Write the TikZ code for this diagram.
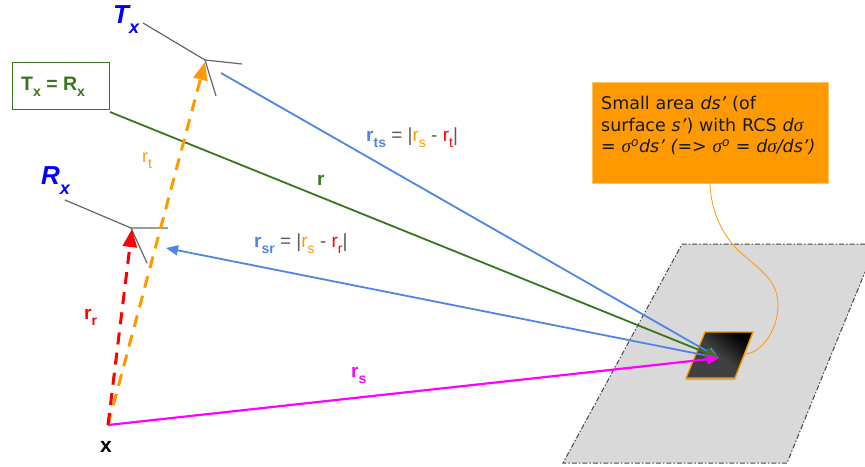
\documentclass[tikz,border=0pt]{standalone}
\usepackage{fontspec}
\setmainfont{Liberation Sans}
\newfontfamily\callfont{DejaVu Sans}
\newfontfamily\sigfont{Liberation Serif}
\usetikzlibrary{arrows.meta,calc}
\definecolor{cblue}{HTML}{4F86E0}
\definecolor{cgreen}{HTML}{38761D}
\definecolor{corange}{HTML}{FF9900}
\definecolor{cmag}{HTML}{FF00FF}
\definecolor{cgray}{HTML}{666666}
\definecolor{ctxt}{HTML}{595959}
\definecolor{csurf}{HTML}{D9D9D9}
\tikzset{
 ant/.style={draw=cgray,line width=1.2pt},
 lab/.style={anchor=base west,inner sep=0pt,font=\fontsize{19}{21}\selectfont\bfseries},
 eqlab/.style={anchor=base west,inner sep=0pt,text=ctxt,font=\fontsize{19}{21}\selectfont},
 bigtip/.style={-{Triangle[length=18pt,width=14pt]}},
 midtip/.style={-{Triangle[length=14pt,width=11pt]}},
 smalltip/.style={-{Triangle[length=12pt,width=10pt]}},
 edgedash/.style={black!72,line width=1pt,dash pattern=on 5pt off 2pt on 1.5pt off 2pt},
 dashline/.style={line width=3pt,dash pattern=on 12pt off 8.3pt,bigtip},
 antlab/.style={anchor=base west,inner sep=0pt,text=blue,font=\fontsize{26}{28}\selectfont\bfseries\itshape},
}
\newcommand{\lsub}[1]{\raisebox{-6pt}{\fontsize{14}{15}\selectfont #1}}
\newcommand{\asub}[1]{\raisebox{-10pt}{\fontsize{18}{19}\selectfont #1}}
\newcommand{\sig}{{\sigfont\itshape\fontsize{19}{21}\selectfont σ}}
\begin{document}
\begin{tikzpicture}[x=1pt,y=-1pt]
\useasboundingbox (0,0) rectangle (865,466);
% surface
\fill[csurf] (682,244) -- (865,244) -- (865,272) -- (787,463) -- (563,463) -- cycle;
\draw[edgedash] (865,244) -- (682,244) -- (563,463) -- (787,463) -- (865,272);
% patch
\fill[black!30] (705,334) -- (753,334) -- (735,380) -- (686,380) -- cycle;
\shade[bottom color=black!75,top color=black,middle color=black!75,shading angle=-40,draw=corange,line width=1.3pt]
 (705,332) -- (753,332) -- (735,378) -- (686,378) -- cycle;
% callout
\node[name=callout,fill=corange,draw=corange!60,line width=.4pt,minimum width=236pt,minimum height=101pt,anchor=north west,inner sep=0pt] at (592,82) {};
\node[name=calltext,anchor=north west,align=left,inner sep=0pt,text width=232pt,font=\fontsize{17.5}{21.7}\selectfont\callfont,text=black!90] at (601,96)
 {Small area \textit{ds’} (of\\surface \textit{s’}) with RCS \textit{d}\sig\\\textit{= \sig\textsuperscript{o}ds’ (=> \sig\textsuperscript{o} = d\sig/ds’)}};
\coordinate (cstart) at (710,183);
\coordinate (cend) at (746,354);
\draw[corange,line width=.8pt] (cstart) .. controls (711,215) and (725,238) .. (740,252) .. controls (760,270) and (778,280) .. (778,305) .. controls (778,330) and (762,352) .. (cend);
% connectors
\coordinate (O) at (108,425);
\coordinate (Tc) at (205,60);
\coordinate (Rc) at (131,228);
\coordinate (Ttip) at (205,62);
\coordinate (Rtip) at (132,229);
\coordinate (Pt) at (719,358);
\coordinate (Ta) at (143,23);\coordinate (Tb) at (242,64);\coordinate (Tk) at (216,96);
\coordinate (Ra) at (65,200);\coordinate (Rb) at (168,228);\coordinate (Rk) at (147,263);
\coordinate (Gs) at (110,112);\coordinate (Bs) at (221,73);\coordinate (Br) at (166,248);
\draw[ant] (Ta) -- (Tc) -- (Tb);
\draw[ant] (Tc) -- (Tk);
\draw[ant] (Ra) -- (Rc) -- (Rb);
\draw[ant] (Rc) -- (Rk);
\draw[cblue,line width=1.8pt,smalltip] (Bs) -- (Pt);
\draw[cblue,line width=1.8pt,{Triangle[length=12pt,width=10pt]}-{Triangle[length=12pt,width=10pt]}] (Br) -- (Pt);
\draw[cgreen,line width=1.8pt,midtip] (Gs) -- (Pt);
\draw[cmag,line width=2.2pt,smalltip] (O) -- (Pt);
\draw[corange,dashline] (O) -- (Ttip);
\draw[red,dashline] (O) -- (Rtip);
% labels
\node[name=tx,antlab] at (113,23) {T\asub{x}};
\node[name=rx,antlab] at (41,184) {R\asub{x}};
\node[name=eqbox,draw=cgreen,line width=1pt,fill=white,anchor=north west,minimum width=97pt,minimum height=47pt,inner sep=0pt] at (12,62) {};
\node[name=eqtxt,anchor=base west,inner sep=0pt,text=cgreen,font=\fontsize{19.5}{21}\selectfont\bfseries] at (21,90) {T\lsub{x} = R\lsub{x}};
\node[name=lr,lab,text=cgreen] at (317,185) {r};
\node[name=lrt,anchor=base west,inner sep=0pt,text=corange,font=\fontsize{18}{20}\selectfont] at (142,162) {r\lsub{t}};
\node[name=lrr,lab,text=red] at (84,319) {r\lsub{r}};
\node[name=lrs,lab,text=cmag] at (351,377) {r\lsub{s}};
\node[name=lx,anchor=base,inner sep=0pt,font=\fontsize{21}{23}\selectfont\bfseries] at (106,452) {x};
\node[name=lts,eqlab] at (366,141)
 {\textcolor{cblue}{\bfseries r\lsub{ts}} = |\textcolor{corange}{r\lsub{s}} - \textcolor{red}{r\lsub{t}}|};
\node[name=lsr,eqlab] at (254,247)
 {\textcolor{cblue}{\bfseries r\lsub{sr}} = |\textcolor{corange}{r\lsub{s}} - \textcolor{red}{r\lsub{r}}|};
\end{tikzpicture}
\end{document}
